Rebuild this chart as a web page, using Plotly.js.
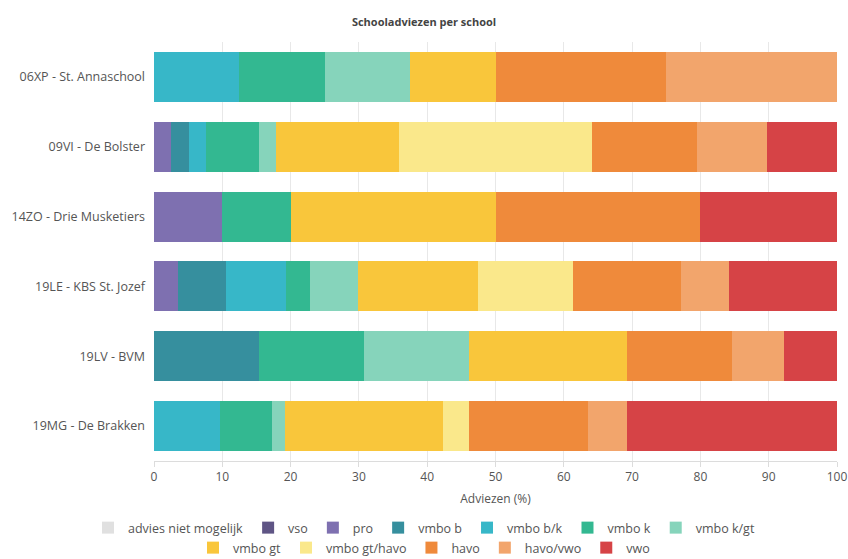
<!DOCTYPE html>
<html><head><meta charset="utf-8">
<script src="https://cdn.plot.ly/plotly-3.0.1.min.js"></script>
<style>html,body{margin:0;padding:0;background:#fff}#chart{width:848px;height:559px}</style>
</head><body><div id="chart"></div>
<script>
const schools = ["06XP - St. Annaschool","09VI - De Bolster","14ZO - Drie Musketiers","19LE - KBS St. Jozef","19LV - BVM","19MG - De Brakken"];
const categories = ["advies niet mogelijk","vso","pro","vmbo b","vmbo b/k","vmbo k","vmbo k/gt","vmbo gt","vmbo gt/havo","havo","havo/vwo","vwo"];
const colors = ["#e0e0e0","#5f5585","#7e70b0","#368f9e","#37b7c8","#33b891","#86d4bb","#f9c63b","#fae88b","#ef8a3b","#f2a56c","#d64346"];
// percentages per category, order of schools
const advNietMogelijk = [0,0,0,0,0,0];
const vso        = [0,0,0,0,0,0];
const pro        = [0,2.56,10,3.51,0,0];
const vmboB      = [0,2.56,0,7.02,15.38,0];
const vmboBK     = [12.5,2.56,0,8.77,0,9.62];
const vmboK      = [12.5,7.69,10,3.51,15.38,7.69];
const vmboKGT    = [12.5,2.56,0,7.02,15.38,1.92];
const vmboGT     = [12.5,17.95,30,17.54,23.08,23.08];
const vmboGTHavo = [0,28.21,0,14.04,0,3.85];
const havo       = [25,15.38,30,15.79,15.38,17.31];
const havoVwo    = [25,10.26,0,7.02,7.69,5.77];
const vwo        = [0,10.26,20,15.79,7.69,30.77];
const series = [advNietMogelijk,vso,pro,vmboB,vmboBK,vmboK,vmboKGT,vmboGT,vmboGTHavo,havo,havoVwo,vwo];

const font = "Open Sans, Noto Sans, sans-serif";
const traces = categories.map((c,i)=>({
  type:'bar', orientation:'h', name:c, x:series[i], y:schools,
  marker:{color:colors[i], line:{width:0}},
  legend: i < 7 ? 'legend' : 'legend2',
  hoverinfo:'x+name'
}));
const legendBase = {orientation:'h', traceorder:'normal', xref:'container', x:0.5, xanchor:'center',
  yref:'container', yanchor:'middle', font:{size:12.5, color:'#555'}, itemwidth:30, bgcolor:'rgba(0,0,0,0)'};
const layout = {
  width:848, height:559,
  margin:{l:154, r:11, t:42, b:98},
  paper_bgcolor:'#fff', plot_bgcolor:'#fff',
  barmode:'stack', bargap:0.286,
  font:{family:font, size:12, color:'#555'},
  title:{text:'<b>Schooladviezen per school</b>', x:0.5, xanchor:'center', yref:'container', y:1-22/559, yanchor:'middle', font:{family:font, size:11, color:'#444'}},
  xaxis:{range:[0,100], dtick:10, showgrid:true, gridcolor:'#e8e8e8', gridwidth:1, zeroline:false,
    showline:true, linecolor:'#dcdcdc', ticks:'outside', ticklen:5, tickcolor:'#dcdcdc',
    tickfont:{size:12, color:'#555'}, title:{text:'Adviezen (%)', standoff:10, font:{size:12, color:'#555'}}},
  yaxis:{autorange:'reversed', showgrid:false, zeroline:false, ticks:'', ticklabelstandoff:8,
    tickfont:{size:12.5, color:'#555'}},
  legend: Object.assign({}, legendBase, {y:1-528/559}),
  legend2: Object.assign({}, legendBase, {y:1-548/559}),
  showlegend:true
};
Plotly.newPlot('chart', traces, layout, {displayModeBar:false, staticPlot:true});
</script></body></html>
